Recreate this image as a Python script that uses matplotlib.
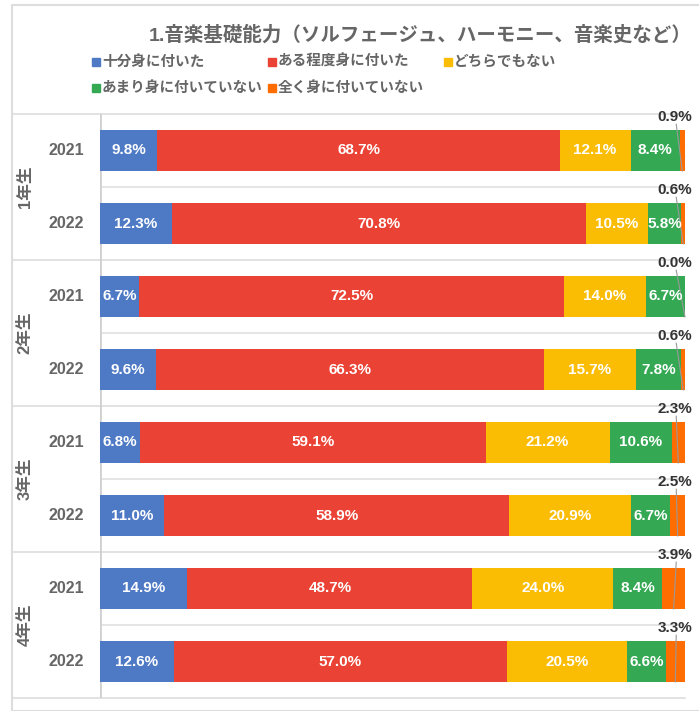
import matplotlib
matplotlib.use("Agg")
import matplotlib.pyplot as plt
from matplotlib.patches import Rectangle
import matplotlib.transforms as mtransforms
import numpy as np

plt.rcParams['font.family'] = ['Liberation Sans', 'Noto Sans CJK JP', 'DejaVu Sans']

title = "1.音楽基礎能力（ソルフェージュ、ハーモニー、音楽史など）"
categories = ["十分身に付いた", "ある程度身に付いた", "どちらでもない",
              "あまり身に付いていない", "全く身に付いていない"]
colors = ["#4e79c5", "#ea4335", "#fbbc04", "#34a853", "#ff6d01"]

groups = ["1年生", "2年生", "3年生", "4年生"]
years = ["2021", "2022"] * 4

full = [9.8, 12.3, 6.7, 9.6, 6.8, 11.0, 14.9, 12.6]
some = [68.7, 70.8, 72.5, 66.3, 59.1, 58.9, 48.7, 57.0]
neutral = [12.1, 10.5, 14.0, 15.7, 21.2, 20.9, 24.0, 20.5]
little = [8.4, 5.8, 6.7, 7.8, 10.6, 6.7, 8.4, 6.6]
none_ = [0.9, 0.6, 0.0, 0.6, 2.3, 2.5, 3.9, 3.3]

series = [full, some, neutral, little, none_]
vals = np.array(series)
totals = vals.sum(axis=0)
shares = vals / totals

W, H = 699, 711
fig = plt.figure(figsize=(W / 100, H / 100), dpi=100)
fig.patches.append(Rectangle((12 / W, 0), 1, 1 - 5 / H, transform=fig.transFigure,
                             fill=False, edgecolor="#dddddd", linewidth=1.5))

x0, x1 = 100, 685
y_top, y_bot = 114, 698
ax = fig.add_axes([x0 / W, 1 - y_bot / H, (x1 - x0) / W, (y_bot - y_top) / H])
ax.set_xlim(0, 1)
n = len(years)
ax.set_ylim(n - 0.5, -0.5)
ax.axis("off")

rows = np.arange(n)
left = np.zeros(n)
for k, (name, col) in enumerate(zip(categories, colors)):
    ax.barh(rows, shares[k], left=left, height=0.575, color=col, zorder=3)
    for i in rows:
        v = vals[k][i]
        cx = left[i] + shares[k][i] / 2
        if k == len(categories) - 1:
            ax.text(1.012, i - 0.36, f"{v:.1f}%", ha="right", va="bottom",
                    fontsize=11, fontweight="bold", color="#333333", clip_on=False, zorder=5)
            ax.plot([0.985, cx], [i - 0.36, i + 0.28], color="#999999", lw=0.8,
                    zorder=4, clip_on=False)
        else:
            ax.text(cx, i, f"{v:.1f}%", ha="center", va="center",
                    fontsize=11, fontweight="bold", color="white", zorder=5)
    left += shares[k]

# grid lines
for i in range(0, n, 2):
    ax.axhline(i + 0.5, color="#e0e0e0", lw=1.2, zorder=1)
trans = mtransforms.blended_transform_factory(ax.transAxes, ax.transData)
x_start = (12 - x0) / (x1 - x0)
for i in range(-1, n, 2):
    ax.plot([x_start, 1], [i + 0.5, i + 0.5], transform=trans, color="#dddddd",
            lw=1.2, zorder=1, clip_on=False)
ax.axvline(0, color="#d0d0d0", lw=2, zorder=2)

# row and group labels
for i, yr in enumerate(years):
    ax.text(-0.058, i, yr, ha="center", va="center", fontsize=11.5,
            fontweight="bold", color="#666666", clip_on=False)
for g, name in enumerate(groups):
    ax.text(-0.128, 2 * g + 0.5, name, ha="center", va="center", rotation=90,
            fontsize=12, fontweight="bold", color="#666666", clip_on=False)

# title
fig.text(420 / W, 1 - 35 / H, title, ha="center", va="center", fontsize=14,
         fontweight="bold", color="#666666")

# legend
for i, (name, col) in enumerate(zip(categories, colors)):
    lx = 92 + (i % 3) * 176
    ly = 62 + (i // 3) * 26
    fig.patches.append(Rectangle((lx / W, 1 - (ly + 4) / H), 8 / W, 8 / H,
                                 transform=fig.transFigure, color=col))
    fig.text((lx + 10) / W, 1 - ly / H, name, ha="left", va="center", fontsize=10.5,
             fontweight="bold", color="#666666")

fig.savefig("out.png", dpi=100)
